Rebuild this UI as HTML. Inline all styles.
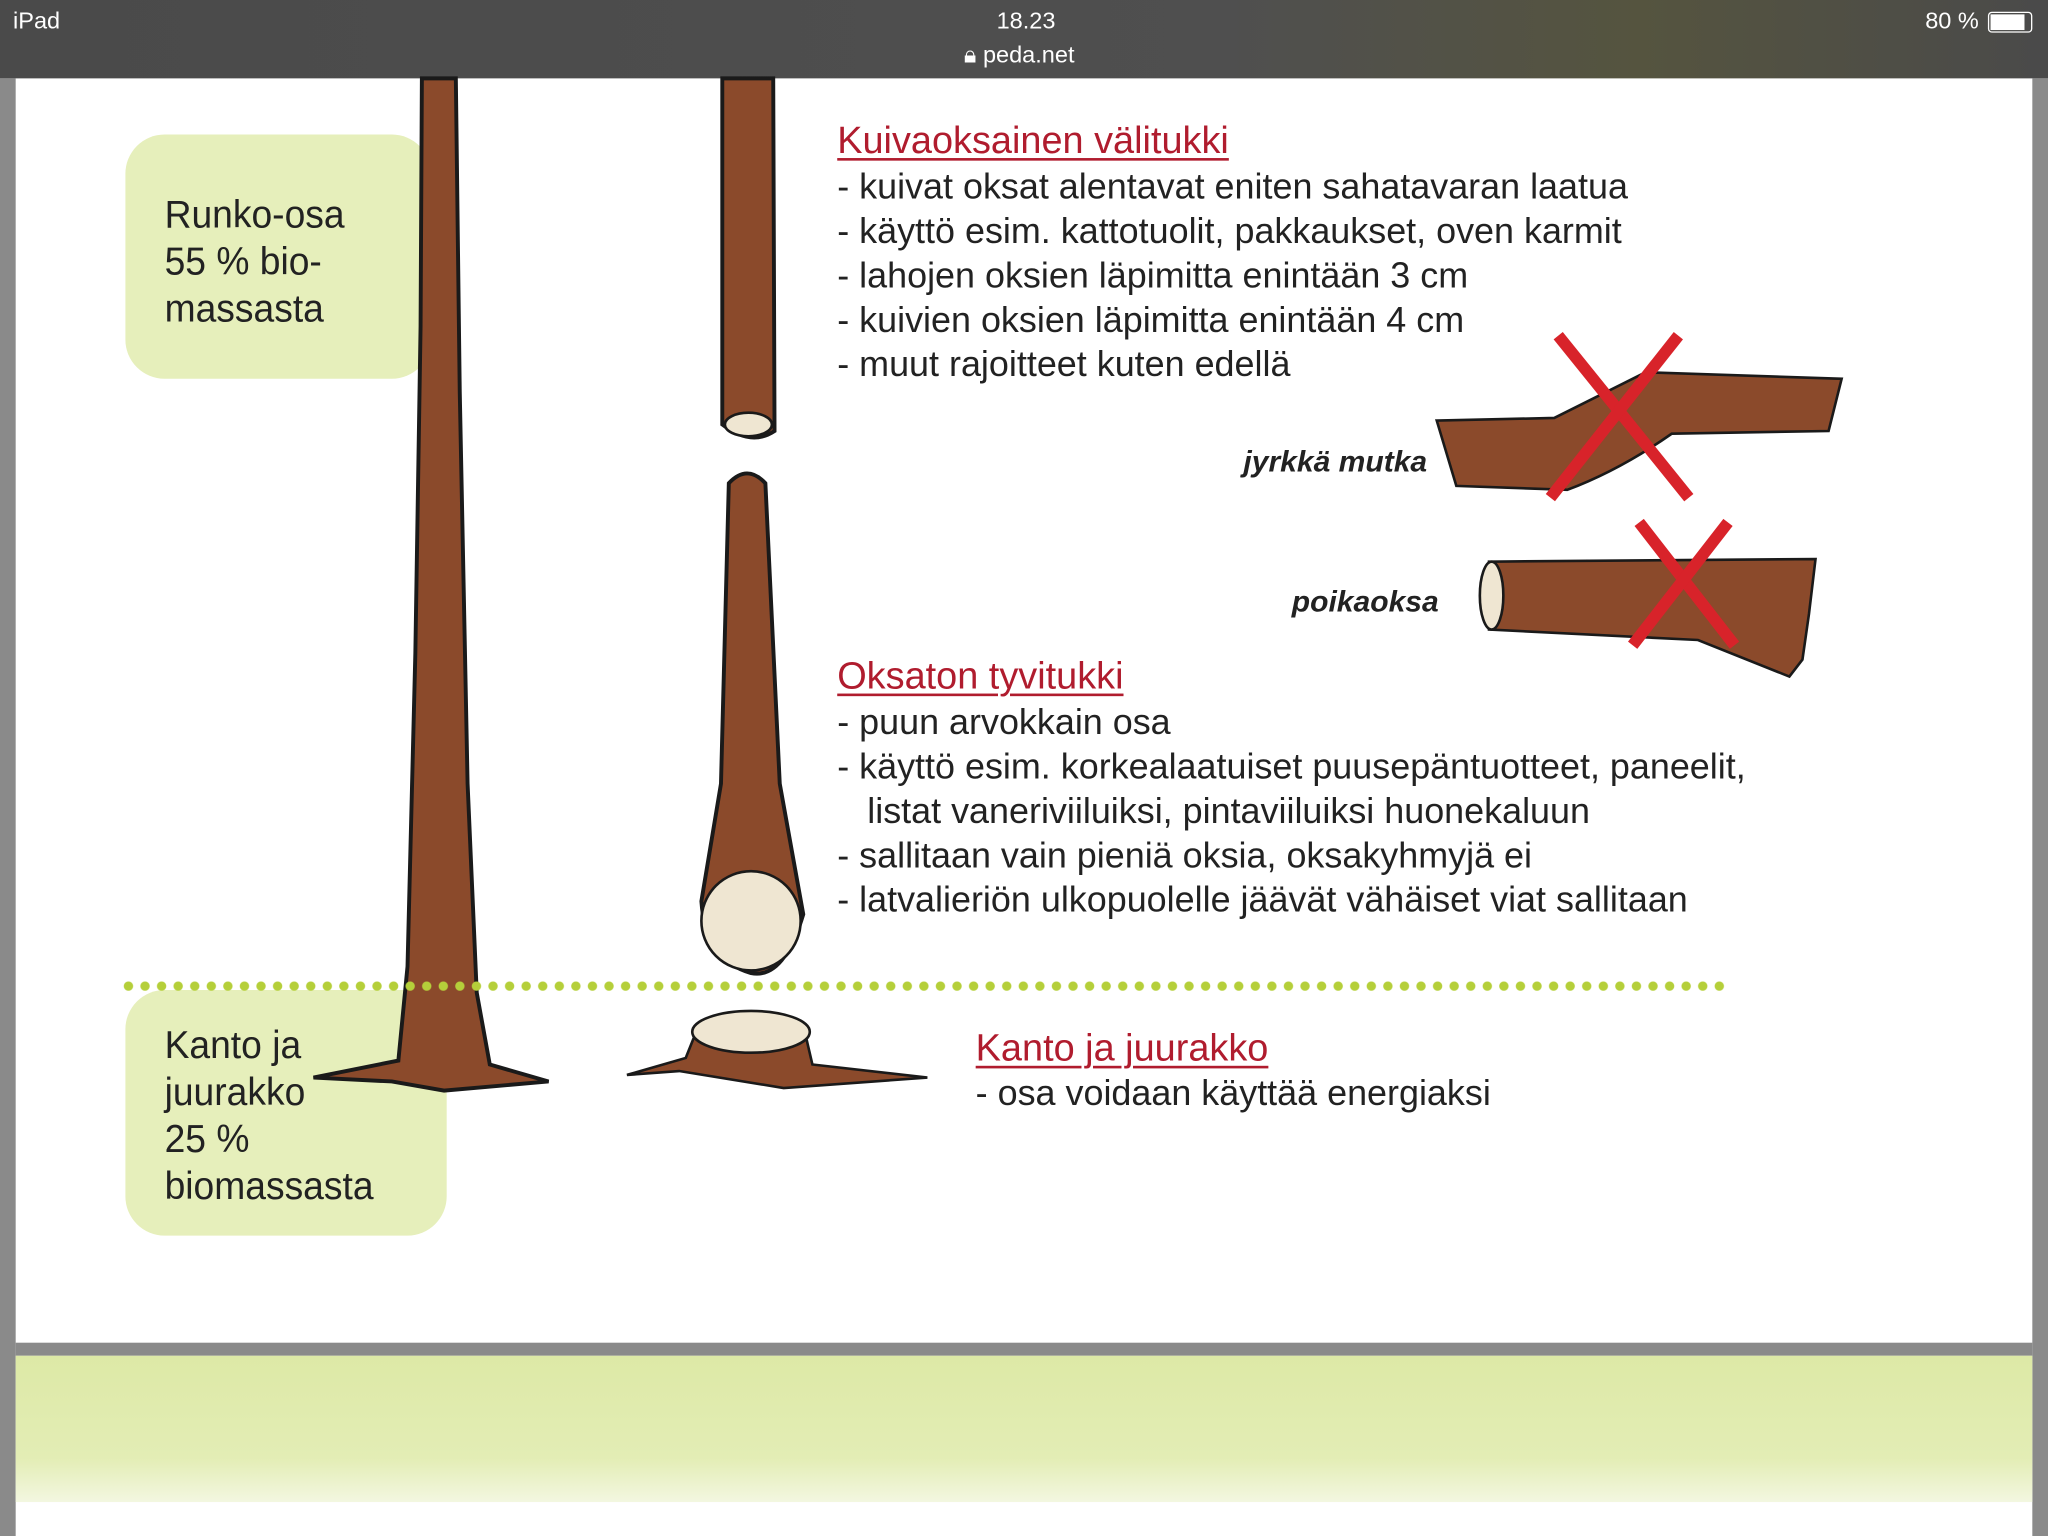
<!DOCTYPE html>
<html><head><meta charset="utf-8">
<style>
html,body{margin:0;padding:0;width:2048px;height:1536px;overflow:hidden;background:#fff}
#w{position:absolute;left:0;top:0;width:1568px;height:1176px;transform:scale(1.306122);transform-origin:0 0;font-family:"Liberation Sans",sans-serif}
.t{position:absolute;white-space:nowrap;font-size:27.5px;color:#222;transform-origin:0 0;line-height:1}
.h{position:absolute;white-space:nowrap;font-size:29px;color:#b01c2e;text-decoration:underline;text-decoration-thickness:2px;text-underline-offset:4px;transform-origin:0 0;line-height:1}
.box{position:absolute;background:#e6efbb;border-radius:30px}
.bt{position:absolute;font-size:30px;color:#222;line-height:36px;transform:scaleX(0.95);transform-origin:0 0;white-space:nowrap}
.lab{position:absolute;font-size:23px;font-style:italic;font-weight:bold;color:#222;white-space:nowrap;line-height:1}
</style></head><body><div id="w">
<div style="position:absolute;left:0;top:0;width:1568px;height:60px;background:linear-gradient(90deg,#4a4a4a,#4f4f4f 60%,#55543f 80%,#4a4a4a)"></div>
<div style="position:absolute;left:10px;top:6px;color:#fff;font-size:18px">iPad</div>
<div style="position:absolute;left:763px;top:6px;color:#fff;font-size:18px">18.23</div>
<div style="position:absolute;left:738px;top:32px;color:#fff;font-size:18px">🔒︎ peda.net</div>
<div style="position:absolute;left:1474px;top:6px;color:#fff;font-size:18px">80 %</div>
<div style="position:absolute;left:1522px;top:9px;width:32px;height:14px;border:1.5px solid #fff;border-radius:3px"><div style="width:26px;height:12px;margin:1px;background:#fff"></div></div>
<div style="position:absolute;left:0;top:60px;width:12px;height:1116px;background:#8a8a8a"></div>
<div style="position:absolute;left:1556px;top:60px;width:12px;height:1116px;background:#8a8a8a"></div>
<div style="position:absolute;left:12px;top:1028px;width:1544px;height:10px;background:#8a8a8a"></div>
<div style="position:absolute;left:12px;top:1038px;width:1544px;height:112px;background:linear-gradient(180deg,#dde9a6,#e3edb5 70%,#f3f7e0)"></div>

<div class="box" style="left:96px;top:103px;width:234px;height:187px"></div>
<div class="bt" style="left:126px;top:147px">Runko-osa<br>55 % bio-<br>massasta</div>
<div class="box" style="left:96px;top:758px;width:246px;height:188px"></div>
<div class="bt" style="left:126px;top:783px">Kanto ja<br>juurakko<br>25 %<br>biomassasta</div>

<svg style="position:absolute;left:0;top:0" width="1568" height="1176">
<path d="M323 60 L349 60 L352 300 L358 600 L365 760 L375 815 L420 828 L340 835 L300 828 L240 825 L305 812 L312 740 L318 500 L322 250 Z" fill="#8b4a2b" stroke="#1a1a1a" stroke-width="3"/>
<path d="M553 60 L592 60 L593 330 Q575 342 553 325 Z" fill="#8b4a2b" stroke="#1a1a1a" stroke-width="3"/>
<ellipse cx="573" cy="325" rx="18" ry="9" fill="#efe6d2" stroke="#1a1a1a" stroke-width="2"/>
<path d="M558 370 Q572 355 586 370 L597 600 L615 700 Q600 750 575 745 Q540 735 537 690 L552 600 Z" fill="#8b4a2b" stroke="#1a1a1a" stroke-width="3"/>
<ellipse cx="575" cy="705" rx="38" ry="38" fill="#efe6d2" stroke="#1a1a1a" stroke-width="2"/>
<path d="M525 810 L535 785 Q570 770 615 785 L622 815 L710 825 L600 833 L520 820 L480 823 Z" fill="#8b4a2b" stroke="#1a1a1a" stroke-width="2"/>
<ellipse cx="575" cy="790" rx="45" ry="16" fill="#efe6d2" stroke="#1a1a1a" stroke-width="2"/>
<path d="M1100 322 L1190 320 Q1230 300 1260 285 L1410 290 L1400 330 L1280 332 Q1240 360 1200 375 L1115 372 Z" fill="#8b4a2b" stroke="#1a1a1a" stroke-width="2"/>
<path d="M1140 430 L1390 428 L1385 470 L1380 505 L1370 518 L1300 490 L1140 482 Z" fill="#8b4a2b" stroke="#1a1a1a" stroke-width="2"/>
<ellipse cx="1142" cy="456" rx="9" ry="26" fill="#efe6d2" stroke="#1a1a1a" stroke-width="2"/>
<g stroke="#d8232a" stroke-width="9" stroke-linecap="butt">
<line x1="1193" y1="257" x2="1293" y2="381"/><line x1="1285" y1="257" x2="1187" y2="381"/>
<line x1="1255" y1="400" x2="1328" y2="494"/><line x1="1323" y1="400" x2="1250" y2="494"/>
</g>
</svg>
<div style="position:absolute;left:92px;top:751px;width:1232px;height:8px;background-image:radial-gradient(circle,#b5cf3a 3.3px,transparent 3.8px);background-size:12.7px 8px"></div>

<div class="h" style="left:641px;top:94px">Kuivaoksainen välitukki</div>
<div class="t" style="left:641px;top:129px">- kuivat oksat alentavat eniten sahatavaran laatua</div>
<div class="t" style="left:641px;top:163px">- käyttö esim. kattotuolit, pakkaukset, oven karmit</div>
<div class="t" style="left:641px;top:197px">- lahojen oksien läpimitta enintään 3 cm</div>
<div class="t" style="left:641px;top:231px">- kuivien oksien läpimitta enintään 4 cm</div>
<div class="t" style="left:641px;top:265px">- muut rajoitteet kuten edellä</div>
<div class="lab" style="left:952px;top:342px">jyrkkä mutka</div>
<div class="lab" style="left:989px;top:449px">poikaoksa</div>
<div class="h" style="left:641px;top:504px">Oksaton tyvitukki</div>
<div class="t" style="left:641px;top:539px">- puun arvokkain osa</div>
<div class="t" style="left:641px;top:573px">- käyttö esim. korkealaatuiset puusepäntuotteet, paneelit,</div>
<div class="t" style="left:664px;top:607px">listat vaneriviiluiksi, pintaviiluiksi huonekaluun</div>
<div class="t" style="left:641px;top:641px">- sallitaan vain pieniä oksia, oksakyhmyjä ei</div>
<div class="t" style="left:641px;top:675px">- latvalieriön ulkopuolelle jäävät vähäiset viat sallitaan</div>
<div class="h" style="left:747px;top:789px">Kanto ja juurakko</div>
<div class="t" style="left:747px;top:823px">- osa voidaan käyttää energiaksi</div>
</div></body></html>
